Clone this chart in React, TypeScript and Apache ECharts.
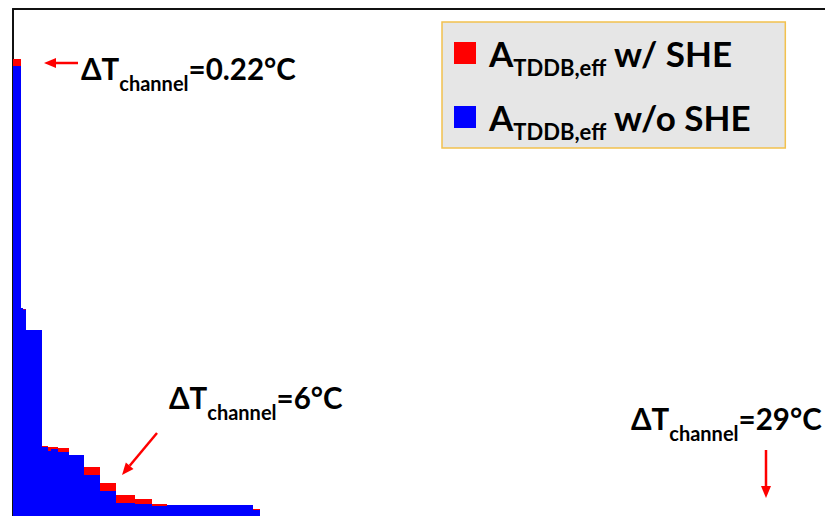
import React, { useEffect, useRef } from 'react';
import * as echarts from 'echarts';

// Histogram bin edges (arbitrary x units) and bar heights (arbitrary y units)
const binEdges = [0, 4, 5, 6.5, 14.5, 17.5, 19, 22.5, 28, 35.5, 43.5, 51.5, 61, 69.5, 77, 120, 123.5];
const withSHE = [95.0, 45.2, 45.0, 40.8, 17.6, 17.4, 17.4, 17.2, 15.8, 13.4, 10.2, 7.8, 7.0, 6.0, 5.8, 5.0];
const withoutSHE = [93.6, 45.2, 44.9, 40.8, 17.4, 16.6, 17.0, 16.4, 15.8, 11.8, 8.6, 6.2, 6.0, 5.6, 5.8, 4.8];
const seriesNames = ['A_TDDB,eff w/ SHE', 'A_TDDB,eff w/o SHE'];
const seriesColors = ['#ff0000', '#0000ff'];
const deltaTLabels = ['0.22°C', '6°C', '29°C'];

const FONT = 'Lato';

function stepData(h: number[]) {
  const pts: number[][] = h.map((v, i) => [binEdges[i], v]);
  pts.push([binEdges[h.length], h[h.length - 1]]);
  pts.push([binEdges[h.length], 0]);
  return pts;
}

function arrow(x1: number, y1: number, x2: number, y2: number, head = 12, hw = 5) {
  const len = Math.hypot(x2 - x1, y2 - y1);
  const ux = (x2 - x1) / len;
  const uy = (y2 - y1) / len;
  const bx = x2 - ux * head;
  const by = y2 - uy * head;
  const nx = -uy;
  const ny = ux;
  return [
    {
      type: 'line',
      shape: { x1, y1, x2: bx, y2: by },
      style: { stroke: '#ff0000', lineWidth: 2.5 },
      z: 10,
    },
    {
      type: 'polygon',
      shape: { points: [[x2, y2], [bx + nx * hw, by + ny * hw], [bx - nx * hw, by - ny * hw]] },
      style: { fill: '#ff0000' },
      z: 10,
    },
  ];
}

const annRich = {
  m: { fontSize: 29.5, fontWeight: 'bold', fontFamily: FONT, color: '#000', lineHeight: 36 },
  s: { fontSize: 20, fontWeight: 'bold', fontFamily: FONT, color: '#000', lineHeight: 36, padding: [29, 0, 0, 0] },
};

function annText(x: number, y: number, label: string) {
  return {
    type: 'text',
    x,
    y,
    z: 10,
    style: {
      text: `{m|ΔT}{s|channel}{m|=${label}}`,
      rich: annRich,
      verticalAlign: 'top',
      align: 'left',
    },
  };
}

export default function App() {
  const ref = useRef<HTMLDivElement>(null);
  useEffect(() => {
    const chart = echarts.init(ref.current!, null, { renderer: 'svg' });
    const axisLine = { show: true, onZero: false, lineStyle: { color: '#111', width: 2 } };
    const option: any = {
      animation: false,
      grid: { left: 13, top: 9, right: 0, bottom: 0 },
      xAxis: {
        type: 'value',
        position: 'top',
        min: 0,
        max: 406,
        axisLine,
        axisTick: { show: false },
        axisLabel: { show: false },
        splitLine: { show: false },
      },
      yAxis: {
        type: 'value',
        min: 3.6,
        max: 105,
        axisLine,
        axisTick: { show: false },
        axisLabel: { show: false },
        splitLine: { show: false },
      },
      legend: {
        orient: 'vertical',
        left: 442,
        top: 22,
        padding: [6, 34, 6, 12],
        itemGap: 14,
        itemWidth: 22,
        itemHeight: 22,
        icon: 'rect',
        selectedMode: false,
        backgroundColor: '#e6e6e6',
        borderColor: '#f2c14e',
        borderWidth: 1.5,
        data: seriesNames,
        formatter: (name: string) => {
          const m = name.match(/^(\S)_(\S+)( .*)$/);
          if (!m) return name;
          return `{A|${m[1]}}{s|${m[2]}}{a|${m[3]}}`;
        },
        textStyle: {
          color: '#000',
          rich: {
            A: { fontSize: 35, fontWeight: 'bold', fontFamily: FONT, color: '#000', lineHeight: 44, padding: [0, 0, 0, 8] },
            a: { fontSize: 35, fontWeight: 'bold', fontFamily: FONT, color: '#000', lineHeight: 44 },
            s: { fontSize: 22, fontWeight: 'bold', fontFamily: FONT, color: '#000', lineHeight: 44, padding: [28, 0, 0, 0] },
          },
        },
      },
      series: [withSHE, withoutSHE].map((h, i) => ({
        name: seriesNames[i],
        type: 'line',
        step: 'end',
        symbol: 'none',
        data: stepData(h),
        lineStyle: { width: 0, color: seriesColors[i] },
        itemStyle: { color: seriesColors[i] },
        areaStyle: { color: seriesColors[i], opacity: 1, origin: 'start' },
        z: 2 + i,
      })),
      graphic: [
        annText(81, 50, deltaTLabels[0]),
        ...arrow(78, 63, 44, 63),
        annText(169, 379, deltaTLabels[1]),
        ...arrow(157, 433, 122, 475),
        annText(631, 400, deltaTLabels[2]),
        ...arrow(766, 450, 766, 498),
      ],
    };
    chart.setOption(option);
    return () => chart.dispose();
  }, []);
  return (
    <div
      ref={ref}
      style={{ position: 'absolute', left: 0, top: 0, width: 825, height: 516, background: '#fff' }}
    />
  );
}
